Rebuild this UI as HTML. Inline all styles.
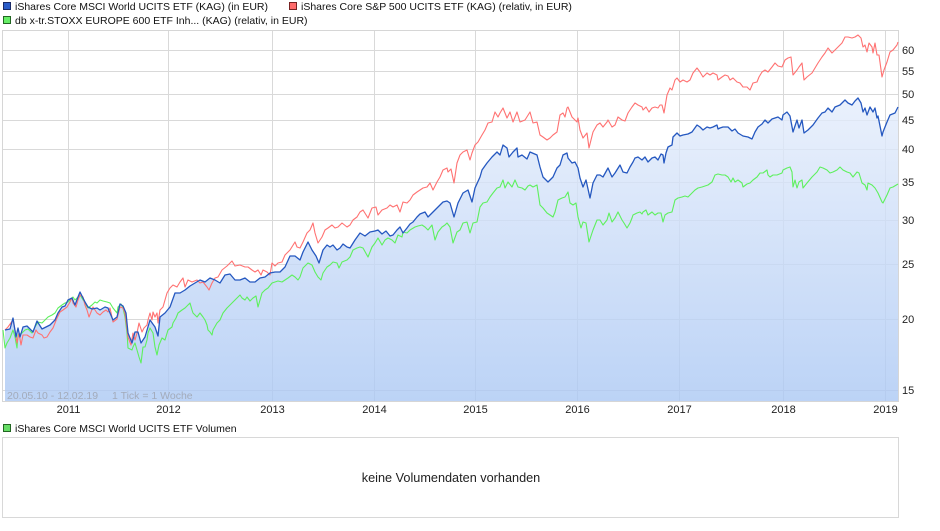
<!DOCTYPE html>
<html><head><meta charset="utf-8"><style>
html,body{margin:0;padding:0;background:#fff;}
body{width:940px;height:526px;overflow:hidden;font-family:"Liberation Sans",Arial,sans-serif;}
svg text{font-family:"Liberation Sans",Arial,sans-serif;}
</style></head><body>
<svg width="940" height="526" viewBox="0 0 940 526" xmlns="http://www.w3.org/2000/svg">
<defs>
<linearGradient id="fg" gradientUnits="userSpaceOnUse" x1="0" y1="30" x2="0" y2="401">
<stop offset="0" stop-color="#f0f5fe"/>
<stop offset="0.3" stop-color="#dde8fa"/>
<stop offset="1" stop-color="#abc8f4"/>
</linearGradient>
</defs>
<!-- legend -->
<rect x="3.5" y="2.5" width="7" height="7" fill="#2a5cc8" stroke="#1a2a66" stroke-width="1"/>
<text x="15" y="10" font-size="10.5" fill="#111">iShares Core MSCI World UCITS ETF (KAG) (in EUR)</text>
<rect x="289.5" y="2.5" width="7" height="7" fill="#ff6b6b" stroke="#772222" stroke-width="1"/>
<text x="301" y="10" font-size="10.5" fill="#111">iShares Core S&amp;P 500 UCITS ETF (KAG) (relativ, in EUR)</text>
<rect x="3.5" y="16.5" width="7" height="7" fill="#66ee66" stroke="#226622" stroke-width="1"/>
<text x="15" y="24" font-size="10.5" fill="#111">db x-tr.STOXX EUROPE 600 ETF Inh... (KAG) (relativ, in EUR)</text>

<!-- grid -->
<g stroke="#d9d9d9" stroke-width="1" fill="none">
<line x1="3" y1="50.5" x2="898" y2="50.5"/>
<line x1="3" y1="71.5" x2="898" y2="71.5"/>
<line x1="3" y1="94.5" x2="898" y2="94.5"/>
<line x1="3" y1="120.5" x2="898" y2="120.5"/>
<line x1="3" y1="149.5" x2="898" y2="149.5"/>
<line x1="3" y1="182.5" x2="898" y2="182.5"/>
<line x1="3" y1="220.5" x2="898" y2="220.5"/>
<line x1="3" y1="264.5" x2="898" y2="264.5"/>
<line x1="3" y1="319.5" x2="898" y2="319.5"/>
<line x1="3" y1="390.5" x2="898" y2="390.5"/>
<line x1="68.5" y1="30" x2="68.5" y2="401"/>
<line x1="168.5" y1="30" x2="168.5" y2="401"/>
<line x1="272.5" y1="30" x2="272.5" y2="401"/>
<line x1="374.5" y1="30" x2="374.5" y2="401"/>
<line x1="475.5" y1="30" x2="475.5" y2="401"/>
<line x1="577.5" y1="30" x2="577.5" y2="401"/>
<line x1="679.5" y1="30" x2="679.5" y2="401"/>
<line x1="783.5" y1="30" x2="783.5" y2="401"/>
<line x1="885.5" y1="30" x2="885.5" y2="401"/>
</g>

<!-- fill under blue -->
<polygon fill="url(#fg)" fill-opacity="0.8" points="5,401 5,330 10,329 13,318 16,337 18,328 20,337 23,327 27,326 33,332 37,321 42,329 50,325 55,320 58,313 62,307 65,306 68,300 72,298 75,305 78,297 80,292 85,302 88,307 92,309 97,308 100,310 105,307 108,308 110,313 113,320 117,317 120,304 123,306 126,313 128,333 132,343 135,332 138,332 141,343 145,337 150,320 155,327 158,336 160,317 165,313 170,307 175,293 180,293 185,290 190,286 195,283 200,280 205,282 210,278 215,280 220,283 225,275 230,274 235,280 240,280 245,278 250,282 255,282 260,278 265,277 270,273 275,272 280,272 285,267 290,256 295,256 300,260 303,252 308,242 312,250 316,256 319,263 323,250 327,245 330,247 333,245 337,250 340,248 343,244 347,247 350,248 355,240 360,233 365,236 370,232 375,231 378,230 382,234 386,231 390,236 393,235 397,230 400,227 403,233 407,228 410,224 413,222 417,217 420,214 425,212 428,217 430,215 433,212 437,208 440,205 443,202 447,201 450,203 454,217 458,203 463,193 468,190 472,202 475,188 480,177 482,170 487,163 492,157 497,152 500,155 503,145 507,148 509,157 513,152 517,148 518,157 522,155 527,159 530,152 537,155 540,167 543,177 548,182 553,177 557,168 560,165 563,155 567,153 568,158 572,163 575,162 578,168 580,178 583,187 586,180 590,198 593,183 597,175 600,175 603,177 608,168 612,177 615,173 620,165 623,172 627,173 630,167 633,162 635,158 638,157 642,160 645,157 648,162 652,158 655,157 658,160 661,154 663,155 664,163 666,153 668,147 672,145 673,137 677,133 680,136 683,135 688,134 692,132 697,125 700,127 703,130 707,127 710,128 713,127 717,125 718,129 720,128 723,127 728,127 732,131 735,129 738,133 743,136 748,137 752,139 755,132 758,127 762,124 765,120 768,123 772,119 775,118 778,117 782,120 783,115 787,112 790,116 793,132 797,120 799,128 802,120 804,133 808,130 813,125 818,118 822,113 825,112 828,108 832,112 835,107 840,105 845,100 848,103 852,105 855,101 858,98 861,103 863,112 865,108 867,115 870,107 873,112 875,108 877,118 878,116 882,136 883,132 887,122 890,115 895,113 898,107 898,401"/>

<rect x="2.5" y="30.5" width="896" height="371" fill="none" stroke="#d6d6d6" stroke-width="1"/>

<!-- green -->
<polyline fill="none" stroke="#5ef05e" stroke-width="1.1" stroke-linejoin="round" points="3,330 5,348 7,343 10,338 13,330 15,337 17,348 18,335 22,333 25,330 28,329 32,333 35,327 38,322 42,323 45,320 48,317 52,315 55,313 58,308 62,305 65,303 68,302 70,300 73,297 75,300 78,297 80,295 85,303 88,308 92,305 95,302 97,303 100,300 103,301 107,302 110,303 113,308 117,313 118,307 121,304 123,308 125,317 127,333 128,348 132,350 133,347 135,343 137,350 139,357 141,363 143,347 145,347 147,340 148,333 150,328 153,333 155,347 157,355 159,345 162,338 165,340 168,330 172,327 173,323 176,318 178,313 182,310 185,308 188,305 190,303 192,310 193,313 197,317 200,313 203,317 205,320 207,325 208,330 210,332 212,335 213,330 217,323 220,320 223,313 227,308 230,305 233,302 237,298 240,295 242,298 245,300 247,297 250,301 253,298 256,296 258,307 262,293 265,290 268,288 272,283 275,282 278,281 282,282 285,280 288,278 292,275 295,277 298,280 300,277 303,268 308,263 312,265 315,272 318,277 321,280 323,273 327,267 330,265 333,262 337,263 339,268 342,262 347,260 350,257 353,250 357,248 360,247 363,248 368,257 372,247 375,243 378,238 382,245 385,240 388,238 392,240 395,243 398,235 402,237 403,232 407,233 410,230 415,227 418,226 422,225 425,227 428,230 432,225 435,240 438,232 442,227 445,225 447,223 450,227 453,243 457,232 460,230 463,223 467,222 470,233 473,223 477,222 480,207 483,203 487,202 490,197 493,193 497,188 500,187 503,180 505,188 508,182 512,187 515,180 518,187 522,188 525,190 528,186 530,185 533,187 537,185 540,205 543,208 547,213 550,215 553,217 555,212 558,200 562,198 565,197 568,192 570,203 573,205 576,203 578,217 581,228 583,222 586,223 589,242 593,230 597,220 600,220 603,225 607,220 609,213 612,222 615,218 618,212 622,220 624,223 627,228 630,223 632,218 633,215 637,213 640,212 642,214 643,212 646,210 648,215 652,212 655,215 658,213 661,213 663,222 665,215 668,213 672,212 675,200 678,198 682,197 685,196 688,197 692,193 695,190 698,188 702,187 705,186 708,185 712,182 715,175 718,174 722,175 725,175 728,177 731,182 733,178 735,182 738,180 742,183 743,187 747,184 750,183 753,180 757,177 760,173 763,173 767,170 768,175 770,177 773,175 777,175 782,173 783,170 787,168 790,167 792,172 793,187 795,180 797,188 799,182 802,180 803,188 807,183 812,177 817,172 820,167 823,168 827,170 830,173 833,172 837,170 840,167 843,170 847,172 850,173 853,177 857,172 859,173 862,183 865,185 867,190 868,183 872,185 875,188 878,193 882,202 883,203 887,195 890,188 893,187 898,184"/>

<!-- red -->
<polyline fill="none" stroke="#ff7272" stroke-width="1.1" stroke-linejoin="round" points="5,330 8,327 13,320 15,330 17,343 19,333 21,345 23,335 27,335 30,337 33,338 36,330 38,333 42,335 44,338 47,337 50,332 53,328 55,323 57,318 60,312 63,310 67,307 70,302 72,298 73,303 76,307 78,300 80,295 83,297 85,305 87,310 89,317 91,312 93,307 97,313 100,315 103,312 106,310 108,312 110,308 113,322 117,319 120,307 123,308 125,313 128,337 131,345 133,333 135,340 137,333 139,323 142,332 144,328 147,325 148,320 150,313 152,320 153,312 155,317 157,313 158,323 160,310 163,307 167,293 170,288 173,285 177,287 180,282 183,278 185,287 188,280 192,282 197,280 200,283 203,282 207,287 209,290 212,283 215,278 218,277 222,270 227,266 232,261 235,266 240,265 245,267 248,267 252,270 255,272 258,270 261,275 263,270 267,272 270,275 272,263 275,266 278,263 282,262 285,255 290,250 295,242 297,247 300,248 303,242 307,233 310,230 313,223 315,233 318,243 322,237 325,230 328,228 332,225 335,228 338,227 342,223 347,227 350,225 353,220 357,217 360,212 363,210 368,218 372,208 376,207 378,215 382,210 387,208 390,205 393,207 397,205 400,212 403,202 407,203 410,200 413,195 417,192 420,190 423,188 427,187 430,183 433,190 437,182 440,177 443,170 447,168 448,172 451,169 454,183 457,163 460,155 463,152 467,150 470,160 472,153 475,145 478,142 482,135 485,130 488,123 492,122 495,112 498,117 500,113 503,108 507,118 510,112 513,122 517,112 520,122 525,120 530,112 533,123 537,122 540,135 543,137 547,140 550,138 553,135 557,132 560,115 563,113 565,117 567,108 568,107 572,117 575,120 577,122 578,118 580,130 583,138 587,133 589,148 593,132 597,125 600,123 603,127 607,122 608,120 612,127 615,125 618,117 622,120 625,121 628,113 632,107 635,103 638,105 642,107 643,110 646,107 649,112 652,108 655,107 658,108 660,105 662,105 664,113 667,95 670,88 672,90 675,80 677,78 680,82 683,80 687,82 690,80 693,73 697,68 700,72 703,77 707,73 710,75 713,73 717,75 718,80 722,77 725,75 728,76 730,80 733,78 737,82 740,83 743,87 747,87 750,90 753,83 757,82 759,77 762,72 765,70 768,72 772,67 775,63 778,66 782,67 785,60 788,58 791,57 793,75 797,70 799,67 802,63 804,80 807,77 812,73 815,68 818,63 822,57 825,53 828,48 832,53 835,50 838,47 842,43 845,37 848,37 852,38 855,37 858,35 861,38 863,47 865,45 867,52 869,43 872,47 873,53 875,43 877,55 879,55 882,77 884,70 887,62 890,52 893,50 897,45 898,42"/>

<!-- blue -->
<polyline fill="none" stroke="#2558c0" stroke-width="1.3" stroke-linejoin="round" points="5,330 10,329 13,318 16,337 18,328 20,337 23,327 27,326 33,332 37,321 42,329 50,325 55,320 58,313 62,307 65,306 68,300 72,298 75,305 78,297 80,292 85,302 88,307 92,309 97,308 100,310 105,307 108,308 110,313 113,320 117,317 120,304 123,306 126,313 128,333 132,343 135,332 138,332 141,343 145,337 150,320 155,327 158,336 160,317 165,313 170,307 175,293 180,293 185,290 190,286 195,283 200,280 205,282 210,278 215,280 220,283 225,275 230,274 235,280 240,280 245,278 250,282 255,282 260,278 265,277 270,273 275,272 280,272 285,267 290,256 295,256 300,260 303,252 308,242 312,250 316,256 319,263 323,250 327,245 330,247 333,245 337,250 340,248 343,244 347,247 350,248 355,240 360,233 365,236 370,232 375,231 378,230 382,234 386,231 390,236 393,235 397,230 400,227 403,233 407,228 410,224 413,222 417,217 420,214 425,212 428,217 430,215 433,212 437,208 440,205 443,202 447,201 450,203 454,217 458,203 463,193 468,190 472,202 475,188 480,177 482,170 487,163 492,157 497,152 500,155 503,145 507,148 509,157 513,152 517,148 518,157 522,155 527,159 530,152 537,155 540,167 543,177 548,182 553,177 557,168 560,165 563,155 567,153 568,158 572,163 575,162 578,168 580,178 583,187 586,180 590,198 593,183 597,175 600,175 603,177 608,168 612,177 615,173 620,165 623,172 627,173 630,167 633,162 635,158 638,157 642,160 645,157 648,162 652,158 655,157 658,160 661,154 663,155 664,163 666,153 668,147 672,145 673,137 677,133 680,136 683,135 688,134 692,132 697,125 700,127 703,130 707,127 710,128 713,127 717,125 718,129 720,128 723,127 728,127 732,131 735,129 738,133 743,136 748,137 752,139 755,132 758,127 762,124 765,120 768,123 772,119 775,118 778,117 782,120 783,115 787,112 790,116 793,132 797,120 799,128 802,120 804,133 808,130 813,125 818,118 822,113 825,112 828,108 832,112 835,107 840,105 845,100 848,103 852,105 855,101 858,98 861,103 863,112 865,108 867,115 870,107 873,112 875,108 877,118 878,116 882,136 883,132 887,122 890,115 895,113 898,107"/>

<!-- y labels -->
<g font-size="11" fill="#222">
<text x="902" y="54">60</text>
<text x="902" y="75">55</text>
<text x="902" y="98">50</text>
<text x="902" y="124">45</text>
<text x="902" y="153">40</text>
<text x="902" y="186">35</text>
<text x="902" y="224">30</text>
<text x="902" y="268">25</text>
<text x="902" y="323">20</text>
<text x="902" y="394">15</text>
</g>
<!-- x labels -->
<g font-size="11" fill="#222" text-anchor="middle">
<text x="68.5" y="413">2011</text>
<text x="168.5" y="413">2012</text>
<text x="272.5" y="413">2013</text>
<text x="374.5" y="413">2014</text>
<text x="475.5" y="413">2015</text>
<text x="577.5" y="413">2016</text>
<text x="679.5" y="413">2017</text>
<text x="783.5" y="413">2018</text>
<text x="885.5" y="413">2019</text>
</g>
<text x="7" y="399" font-size="10.5" fill="#a3abba">20.05.10 - 12.02.19</text>
<text x="112" y="399" font-size="10.5" fill="#a3abba">1 Tick = 1 Woche</text>

<!-- volume -->
<rect x="3.5" y="424.5" width="7" height="7" fill="#66dd66" stroke="#226622" stroke-width="1"/>
<text x="15" y="432" font-size="10.5" fill="#111">iShares Core MSCI World UCITS ETF Volumen</text>
<rect x="2.5" y="437.5" width="896" height="80" fill="#fff" stroke="#d8d8d8" stroke-width="1"/>
<text x="451" y="482" font-size="12.7" fill="#222" text-anchor="middle">keine Volumendaten vorhanden</text>
</svg>
</body></html>
